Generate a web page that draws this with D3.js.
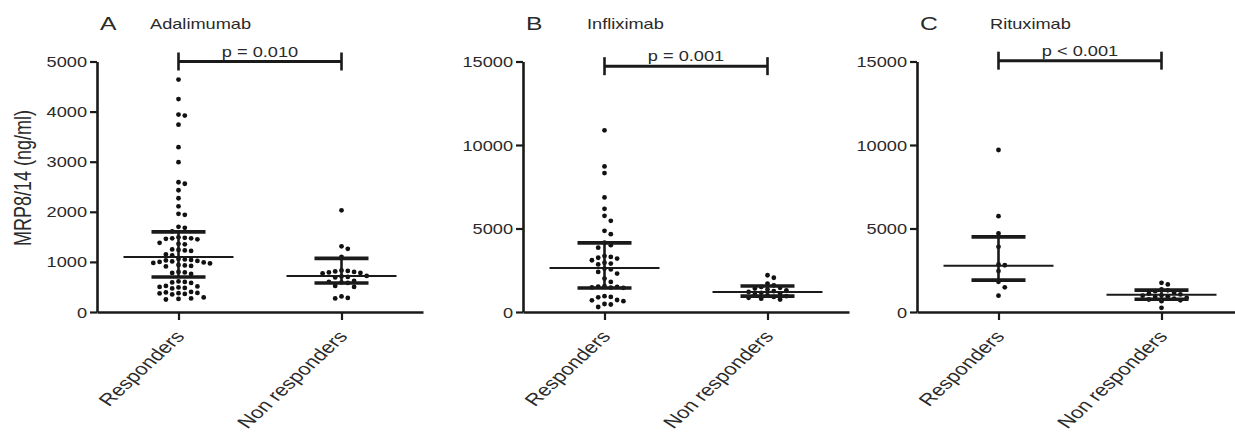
<!DOCTYPE html>
<html>
<head>
<meta charset="utf-8">
<script src="https://cdn.jsdelivr.net/npm/d3@7"></script>
<style>
  body { margin: 0; background: #fff; }
  svg text { font-family: "Liberation Sans", Arial, sans-serif; fill: #2a2a2a; }
</style>
</head>
<body>
<div id="chart"></div>
<script>
// Data
const panelLetters = ["A", "B", "C"];
const drugs = ["Adalimumab", "Infliximab", "Rituximab"];
const groups = ["Responders", "Non responders"];
const yMax = [5000, 15000, 15000];
const yTicks = [[0, 1000, 2000, 3000, 4000, 5000], [0, 5000, 10000, 15000], [0, 5000, 10000, 15000]];
const pLabels = ["p = 0.010", "p = 0.001", "p < 0.001"];
const bracketLevel = [5000, 14720, 15050];

const adaResp = [4640, 4250, 3940, 3920, 3740, 3290, 2990, 2590, 2560, 2430, 2270, 2110, 1960, 1940, 1700, 1680,
  1610, 1490, 1480, 1470, 1470, 1460, 1450, 1380, 1360, 1350, 1250, 1240, 1230, 1220, 1150, 1130,
  1060, 1050, 1040, 1030, 1020, 1010, 1000, 990, 980, 970, 940, 930, 920, 910, 800, 790, 780, 760,
  610, 600, 590, 580, 520, 510, 500, 490, 480, 470, 400, 390, 380, 375, 370, 360, 350, 290, 270, 260, 250];
const adaNon = [2030, 1310, 1260, 1100, 830, 820, 810, 800, 790, 780, 770, 720, 710, 700, 690, 620, 600, 590, 580, 520, 500, 310, 280, 270];
const infResp = [10880, 8720, 8320, 6860, 6180, 5760, 5460, 4860, 4660, 4150, 4000, 3850, 3350, 3300, 3250, 3200, 3100,
  2950, 2900, 2850, 2600, 2550, 2400, 2300, 2000, 1800, 1550, 1520, 1500, 1480, 1460, 1450, 950, 900, 880, 720, 700, 650, 480, 450, 300];
const infNon = [2200, 2050, 1700, 1600, 1500, 1450, 1400, 1350, 1300, 1250, 1200, 1150, 1100, 1050, 1000, 950, 900, 850, 800, 750];
const ritResp = [9700, 5740, 4700, 3900, 2850, 2800, 2450, 1810, 1480, 980];
const ritNon = [1750, 1650, 1350, 1300, 1250, 1150, 1100, 1050, 1000, 980, 950, 900, 850, 800, 750, 700, 650, 250];

const medians = [[1100, 720], [2640, 1200], [2770, 1030]];
const q1s = [[700, 580], [1440, 950], [1910, 760]];
const q3s = [[1600, 1070], [4140, 1560], [4500, 1310]];

const panelData = [[adaResp, adaNon], [infResp, infNon], [ritResp, ritNon]];

const W = 1235, H = 437;
const panelLeft = [97, 523, 917];
const panelWidth = 326;
const plotTop = 61.5, plotBottom = 312;
const SX = 1.3; // text in the figure is stretched horizontally
const ink = "#1a1a1a";

const svg = d3.select("#chart").append("svg").attr("width", W).attr("height", H);

// simple deterministic dot spreading (scatter dot plot)
function swarm(values, y, cx) {
  const step = 6.3, minD = 5.6;
  const placed = [];
  values.slice().sort((a, b) => b - a).forEach(v => {
    const py = y(v);
    let k = 0, px;
    while (true) {
      const off = k === 0 ? 0 : (k % 2 ? 1 : -1) * Math.ceil(k / 2) * step;
      px = cx + off;
      if (!placed.some(p => (p.x - px) ** 2 + (p.y - py) ** 2 < minD * minD)) break;
      k++;
    }
    placed.push({x: px, y: py, v});
  });
  return placed;
}

panelLetters.forEach((letter, i) => {
  const g = svg.append("g").attr("transform", `translate(${panelLeft[i]},0)`);
  const y = d3.scaleLinear().domain([0, yMax[i]]).range([plotBottom, plotTop]);
  const x = d3.scalePoint().domain(groups).range([0, panelWidth]).padding(0.5);

  // y axis
  const ya = g.append("g").call(d3.axisLeft(y).tickValues(yTicks[i]).tickSize(7).tickSizeOuter(0).tickFormat(d3.format("d")));
  ya.select(".domain").attr("stroke", ink).attr("stroke-width", 2.6);
  ya.selectAll(".tick line").attr("stroke", ink).attr("stroke-width", 2.2);
  ya.selectAll(".tick text").attr("x", -10 / SX).attr("dy", "0.36em")
    .attr("transform", `scale(${SX},1)`).style("font-size", "14px").attr("fill", "#2a2a2a");

  // x axis
  const xa = g.append("g").attr("transform", `translate(0,${plotBottom})`)
    .call(d3.axisBottom(x).tickSize(8).tickSizeOuter(0));
  xa.select(".domain").attr("stroke", ink).attr("stroke-width", 2.6);
  xa.selectAll(".tick line").attr("stroke", ink).attr("stroke-width", 2.2);
  xa.selectAll(".tick text").remove();
  groups.forEach(grp => {
    g.append("text")
      .attr("transform", `translate(${x(grp) + 7},${plotBottom + 25}) scale(${SX},1) rotate(-50)`)
      .attr("text-anchor", "end")
      .style("font-size", "17px")
      .text(grp);
  });

  // dots
  groups.forEach((grp, j) => {
    const pts = swarm(panelData[i][j], y, x(grp));
    g.selectAll(null).data(pts).enter().append("circle")
      .attr("cx", d => d.x).attr("cy", d => d.y).attr("r", 2.4).attr("fill", "#111");
  });

  // median + interquartile range
  groups.forEach((grp, j) => {
    const cx = x(grp);
    g.append("line").attr("x1", cx).attr("x2", cx).attr("y1", y(q1s[i][j])).attr("y2", y(q3s[i][j]))
      .attr("stroke", ink).attr("stroke-width", 2.6);
    [q1s[i][j], q3s[i][j]].forEach(q => {
      g.append("line").attr("x1", cx - 27).attr("x2", cx + 27).attr("y1", y(q)).attr("y2", y(q))
        .attr("stroke", ink).attr("stroke-width", 3.6);
    });
    g.append("line").attr("x1", cx - 55).attr("x2", cx + 55).attr("y1", y(medians[i][j])).attr("y2", y(medians[i][j]))
      .attr("stroke", ink).attr("stroke-width", 2);
  });

  // significance bracket
  const by = y(bracketLevel[i]);
  const bx1 = x(groups[0]), bx2 = x(groups[1]);
  g.append("line").attr("x1", bx1).attr("x2", bx2).attr("y1", by).attr("y2", by).attr("stroke", ink).attr("stroke-width", 3);
  [bx1, bx2].forEach(bx => {
    g.append("line").attr("x1", bx).attr("x2", bx).attr("y1", by - 9).attr("y2", by + 9).attr("stroke", ink).attr("stroke-width", 2.6);
  });
  g.append("text").attr("transform", `translate(${(bx1 + bx2) / 2},${by - 5}) scale(${SX},1)`)
    .attr("text-anchor", "middle").style("font-size", "14px").text(pLabels[i]);

  // titles
  g.append("text").attr("transform", `translate(3,30) scale(${SX},1)`).style("font-size", "19px").text(letter);
  g.append("text").attr("transform", `translate(${[53, 64, 73][i]},29) scale(${SX},1)`).style("font-size", "14px").text(drugs[i]);
});

// y axis title (only on first panel)
svg.append("text")
  .attr("transform", `translate(31,178) scale(${SX},1) rotate(-90)`)
  .attr("text-anchor", "middle").style("font-size", "18px")
  .text("MRP8/14 (ng/ml)");
</script>
</body>
</html>
